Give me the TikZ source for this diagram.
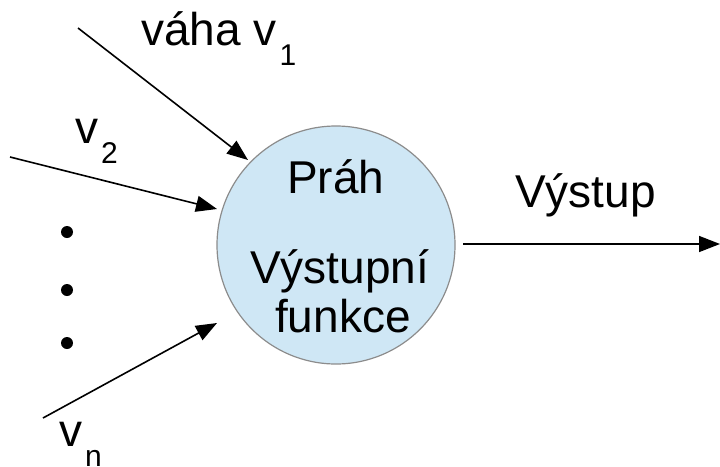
\documentclass[tikz,border=0pt]{standalone}
\usepackage{fontspec}
\setmainfont{Liberation Sans}
\usetikzlibrary{arrows.meta}
\definecolor{cellfill}{RGB}{207,231,245}
\definecolor{cellrim}{RGB}{140,140,140}
\tikzset{
  wire/.style={line width=1.6pt, -{Triangle[length=21pt,width=16pt]}},
  lbl/.style={anchor=base west, inner sep=0pt, font=\fontsize{46}{54}\selectfont},
  dotmark/.style={fill=black, circle, inner sep=0pt, minimum size=12pt},
}
\newcommand{\wsub}[1]{\hspace{3pt}\raisebox{-20pt}{\fontsize{30}{34}\selectfont #1}}
\begin{document}
\begin{tikzpicture}[x=1pt,y=-1pt]
  \useasboundingbox (0,0) rectangle (720,466);

  % neuron body
  \node (cell) [circle, draw=cellrim, line width=1.2pt, fill=cellfill,
        minimum size=238pt, inner sep=0pt] at (336,245) {};

  % inputs and output
  \coordinate (s1) at (78,28);   \coordinate (t1) at (248,160);
  \coordinate (s2) at (10,157);  \coordinate (t2) at (217,209);
  \coordinate (sn) at (43,418);  \coordinate (tn) at (217,323);
  \coordinate (o0) at (463,244); \coordinate (o1) at (720,244);
  \draw[wire] (s1) -- (t1);
  \draw[wire] (s2) -- (t2);
  \draw[wire] (sn) -- (tn);
  \draw[wire] (o0) -- (o1);

  % ellipsis between the inputs
  \node (d1) [dotmark] at (67,232) {};
  \node (d2) [dotmark] at (67,290) {};
  \node (d3) [dotmark] at (67,343) {};

  % labels
  \node (w1) [lbl] at (141,45) {váha v\wsub{1}};
  \node (w2) [lbl] at (75,143) {v\wsub{2}};
  \node (wn) [lbl] at (59,446) {v\wsub{n}};
  \node (prah) [lbl] at (287,193) {Práh};
  \node (fn1) [lbl] at (250,283) {Výstupní};
  \node (fn2) [lbl] at (275,332) {funkce};
  \node (out) [lbl] at (515,207) {Výstup};
\end{tikzpicture}
\end{document}
